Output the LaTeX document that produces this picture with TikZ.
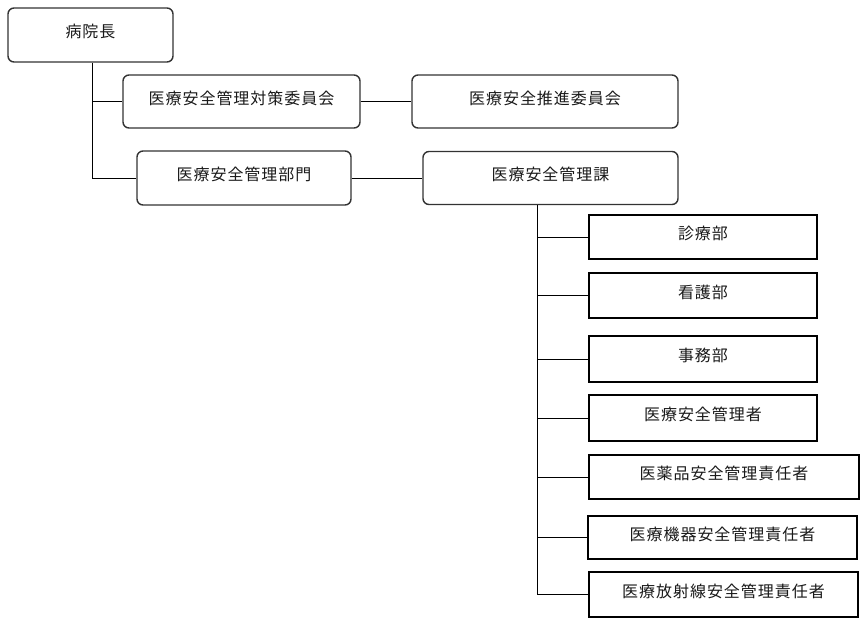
\documentclass[tikz,border=0pt]{standalone}
\usepackage{fontspec}
\newfontfamily\jpfont{Noto Sans CJK JP}[LetterSpace=6]
\begin{document}
\begin{tikzpicture}[x=1pt,y=-1pt,
  rbox/.style={draw=black!80, line width=1.4pt, rounded corners=6pt, inner sep=0pt},
  sbox/.style={draw=black, line width=1.1pt, inner sep=0pt},
  txt/.style={font=\jpfont\fontsize{16}{19}\selectfont, text=black!90, yshift=3.5pt, inner sep=0pt},
  conn/.style={draw=black, line width=1pt}]
\useasboundingbox (0,0) rectangle (865,625);
% top level
\node[rbox, minimum width=165, minimum height=54, label={[txt]center:病院長}] (chief) at (90.5,35) {};
\node[rbox, minimum width=237, minimum height=53, label={[txt]center:医療安全管理対策委員会}] (c1) at (241.5,101.5) {};
\node[rbox, minimum width=266, minimum height=53, label={[txt]center:医療安全推進委員会}] (c2) at (545,101.5) {};
\node[rbox, minimum width=214, minimum height=54, label={[txt]center:医療安全管理部門}] (dept) at (244,178) {};
\node[rbox, minimum width=255, minimum height=53, label={[txt]center:医療安全管理課}] (sect) at (550.5,178) {};
% right column
\node[sbox, minimum width=228, minimum height=44, label={[txt]center:診療部}] (r1) at (703,237) {};
\node[sbox, minimum width=228, minimum height=45, label={[txt]center:看護部}] (r2) at (703,295.5) {};
\node[sbox, minimum width=228, minimum height=46, label={[txt]center:事務部}] (r3) at (703,359) {};
\node[sbox, minimum width=228, minimum height=46, label={[txt]center:医療安全管理者}] (r4) at (703,418) {};
\node[sbox, minimum width=270, minimum height=44, label={[txt]center:医薬品安全管理責任者}] (r5) at (724,477) {};
\node[sbox, minimum width=269, minimum height=43, label={[txt]center:医療機器安全管理責任者}] (r6) at (722.5,537.5) {};
\node[sbox, minimum width=269, minimum height=45, label={[txt]center:医療放射線安全管理責任者}] (r7) at (723.5,594.5) {};
% trunks
\coordinate (t1) at (92,0);
\coordinate (t2) at (537,0);
% connectors
\draw[conn] (chief.south -| t1) |- (dept.west);
\draw[conn] (t1 |- c1.west) -- (c1.west);
\draw[conn] (c1.east) -- (c2.west);
\draw[conn] (dept.east) -- (sect.west);
\draw[conn] (sect.south -| t2) |- (r7.west);
\foreach \n in {r1,r2,r3,r4,r5,r6} \draw[conn] (t2 |- \n.west) -- (\n.west);
\end{tikzpicture}
\end{document}
